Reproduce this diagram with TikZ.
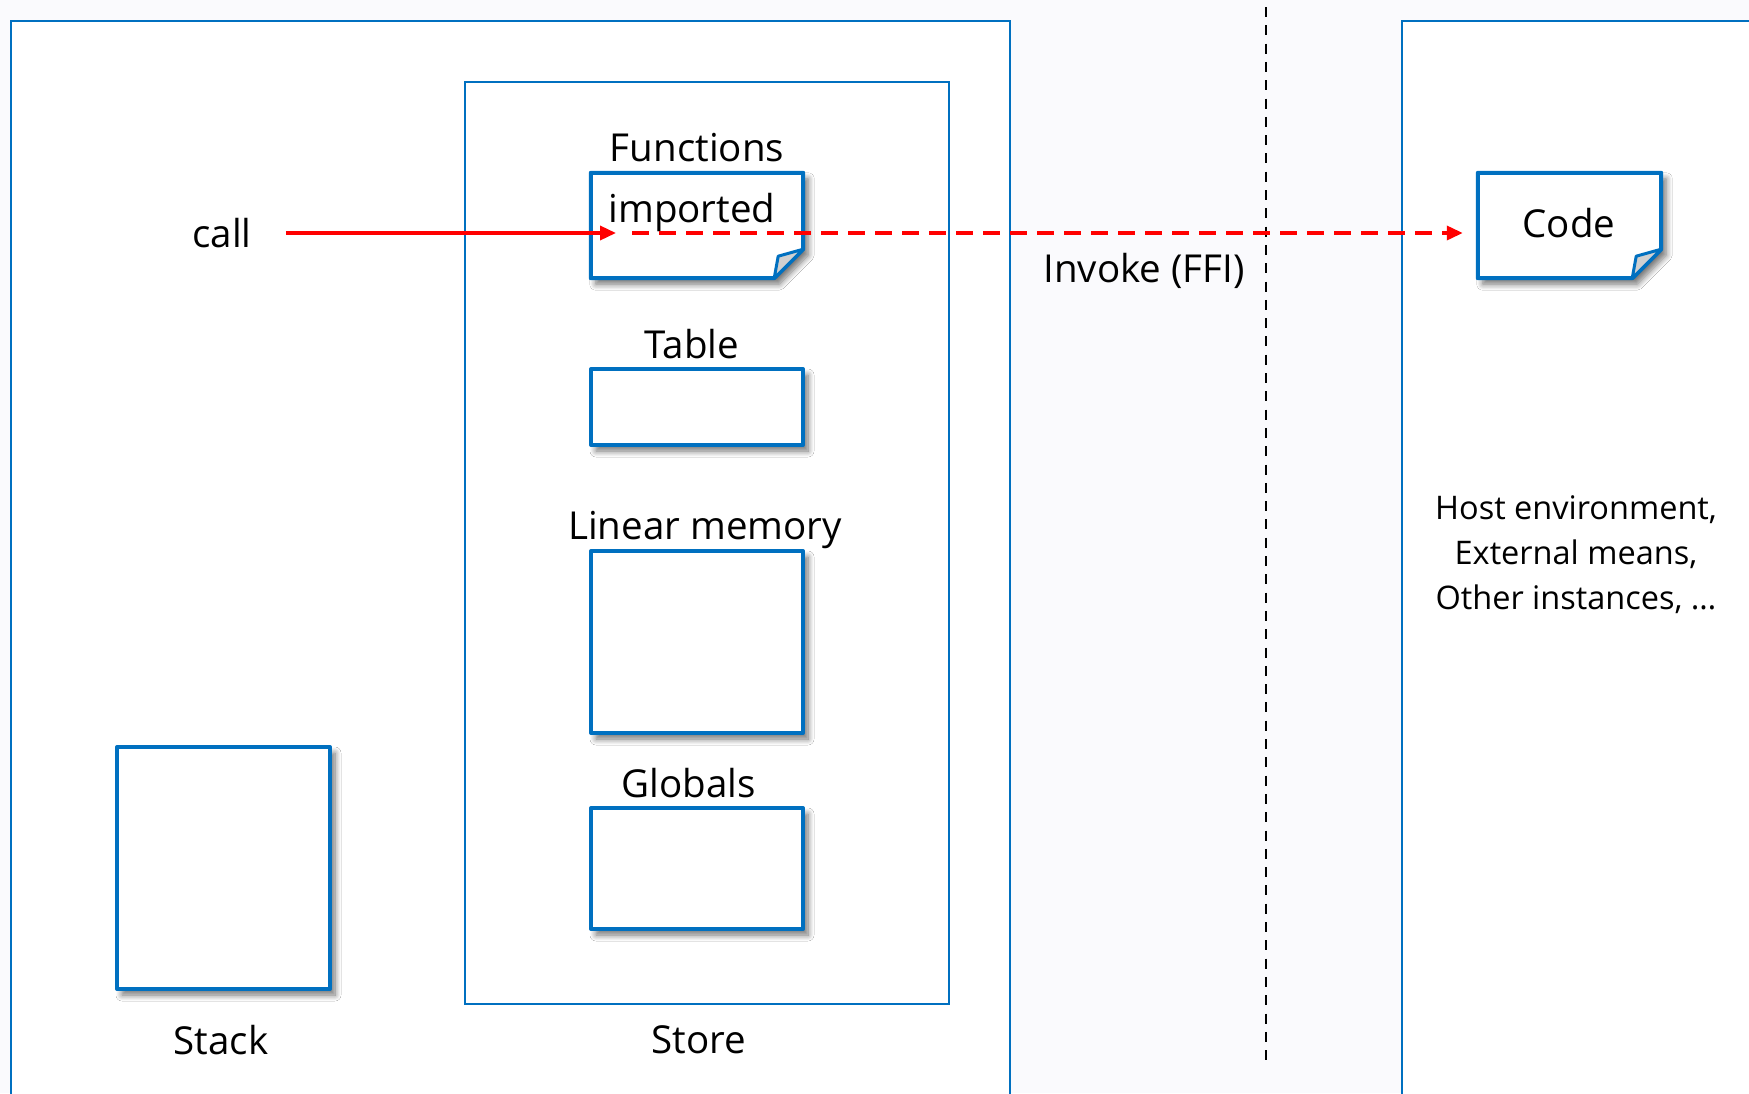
\documentclass[tikz,border=0pt]{standalone}
\usepackage{fontspec}
\setmainfont{Open Sans}
\usetikzlibrary{arrows.meta,shadows.blur}
\definecolor{boxblue}{RGB}{0,112,192}
\definecolor{pagebg}{RGB}{250,250,253}
\definecolor{foldgray}{RGB}{208,208,208}
\definecolor{callred}{RGB}{255,0,0}

\tikzset{
  region/.style={draw=boxblue, line width=2.5pt, fill=white},
  slotshadow/.style={blur shadow={shadow xshift=5pt, shadow yshift=-6pt,
      shadow blur steps=8, shadow blur radius=6pt, shadow opacity=55}},
  slot/.style={draw=boxblue, line width=4pt, fill=white, line join=round, slotshadow},
  slotframe/.style={rectangle, inner sep=0pt},
  fold/.style={draw=boxblue, line width=3pt, fill=foldgray, line join=round},
  lbl/.style={font=\fontsize{38.5}{46}\selectfont, inner sep=2pt},
  note/.style={font=\fontsize{32.5}{45}\selectfont, align=center, inner sep=2pt},
  divider/.style={draw=black, line width=2.6pt, dash pattern=on 10pt off 8.3pt},
  callline/.style={draw=callred, line width=3.5pt, -{Triangle[length=16pt,width=14pt]}},
  ffiline/.style={callline, dash pattern=on 17pt off 10pt},
}

\begin{document}
\begin{tikzpicture}[x=1pt,y=-1pt]
  \useasboundingbox (0,0) rectangle (1749,1093);
  \clip (0,0) rectangle (1749,1093);
  \fill[pagebg] (0,0) rectangle (1749,1093);

  % instance area and host area
  \draw[region] (11,21) rectangle (1010,1110);
  \draw[region] (1402,21) rectangle (1770,1110);

  % store
  \node[region, slotframe, minimum width=484pt, minimum height=922pt] (store) at (707,543) {};

  % dividing line between the instance and the outside world
  \coordinate (vtop) at (1266,7);
  \coordinate (vbot) at (1266,1065);
  \draw[divider] (vtop) -- (vbot);

  % imported function with folded corner
  \node[slotframe, minimum width=212pt, minimum height=105pt] (imp) at (697,225.5) {};
  \draw[slot] (imp.north west) -- (imp.north east) -- ([yshift=29pt]imp.south east)
    -- ([xshift=-29pt]imp.south east) -- (imp.south west) -- cycle;
  \filldraw[fold] ([yshift=29pt]imp.south east) -- ([xshift=-25pt,yshift=22pt]imp.south east)
    -- ([xshift=-29pt]imp.south east) -- cycle;

  % host code with folded corner
  \node[slotframe, minimum width=183pt, minimum height=105pt] (code) at (1569.5,225.5) {};
  \draw[slot] (code.north west) -- (code.north east) -- ([yshift=29pt]code.south east)
    -- ([xshift=-29pt]code.south east) -- (code.south west) -- cycle;
  \filldraw[fold] ([yshift=29pt]code.south east) -- ([xshift=-25pt,yshift=22pt]code.south east)
    -- ([xshift=-29pt]code.south east) -- cycle;

  % other store contents and the stack
  \node[slot, slotframe, minimum width=212pt, minimum height=76pt] (table) at (697,407) {};
  \node[slot, slotframe, minimum width=212pt, minimum height=182pt] (mem) at (697,642) {};
  \node[slot, slotframe, minimum width=212pt, minimum height=121pt] (glob) at (697,868.5) {};
  \node[slot, slotframe, minimum width=213pt, minimum height=242pt] (stack) at (223.5,868) {};

  % labels
  \node[lbl] (funlbl) at (697,148) {Functions};
  \node[lbl] (implbl) at (692,212) {imported};
  \node[lbl] (call) at (222,233) {call};
  \node[lbl] (tablbl) at (692,344) {Table};
  \node[lbl] (memlbl) at (705,530) {Linear memory};
  \node[lbl] (globlbl) at (689,783) {Globals};
  \node[lbl] (stacklbl) at (221,1040) {Stack};
  \node[lbl] (storelbl) at (699,1040) {Store};
  \node[lbl] (codelbl) at (1569,223) {Code};
  \node[lbl] (ffilbl) at (1144,271) {Invoke (FFI)};
  \node[note] (hostlbl) at (1576,555) {Host environment,\\External means,\\Other instances, \dots};

  % call into the imported function, forwarded to host code
  \coordinate (hit) at (616,233);
  \draw[callline, shorten <=32pt] (call.east) -- (hit);
  \draw[ffiline, shorten <=16pt, shorten >=15pt] (hit) -- (hit -| code.west);
\end{tikzpicture}
\end{document}
